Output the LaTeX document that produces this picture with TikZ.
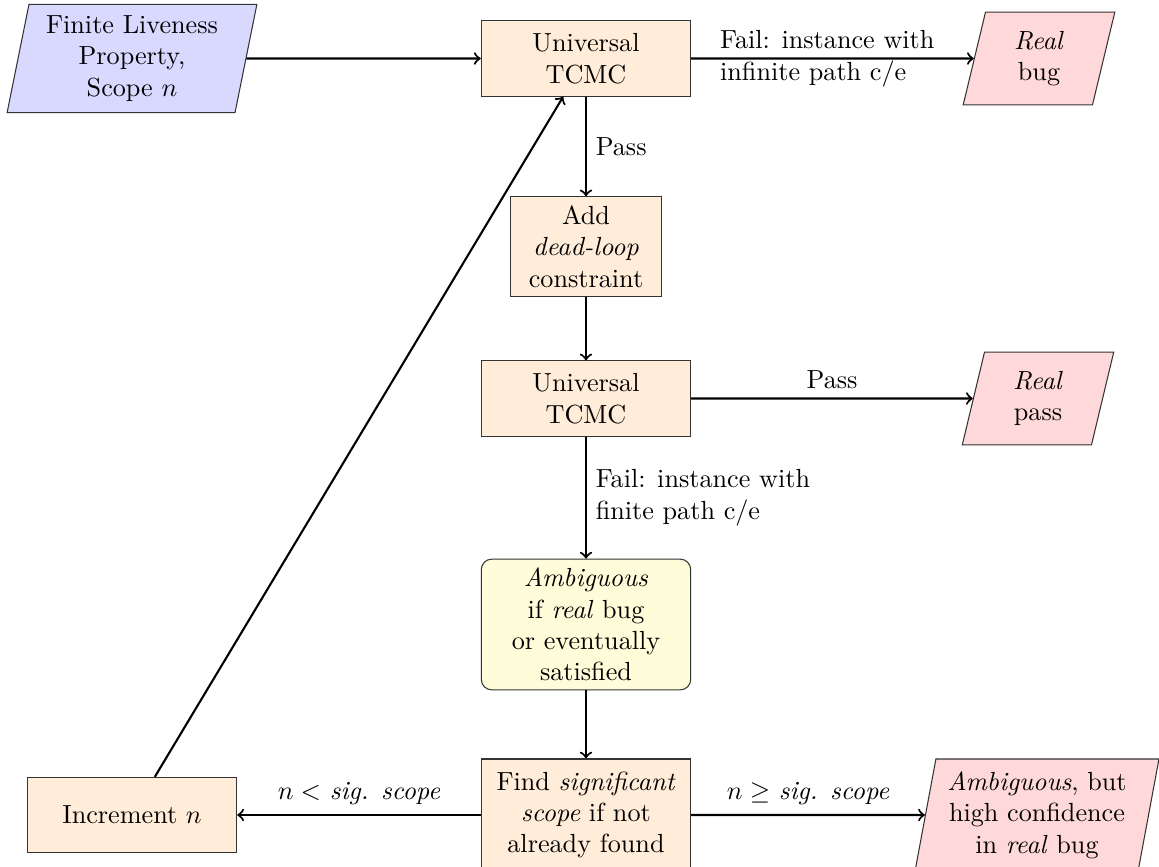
\documentclass[tikz,border=0pt]{standalone}
\usetikzlibrary{shapes.geometric}
\begin{document}
\begin{tikzpicture}[x=0.382pt,y=-0.382pt,
  base/.style={draw=black!80, align=center, inner sep=3.33pt},
  proc/.style={base, rectangle, fill=orange!15, minimum width=80pt, minimum height=28.7pt},
  io/.style={base, trapezium, trapezium left angle=79, trapezium right angle=101, trapezium stretches=true},
  inputio/.style={io, fill=blue!15},
  outio/.style={io, fill=red!15},
  decide/.style={base, rectangle, rounded corners, fill=yellow!15, minimum width=80pt},
  flow/.style={->, thick},
]
\useasboundingbox (0,0) rectangle (1159,867);

% top row
\node[inputio, minimum width=95.5pt, minimum height=41.3pt] (prop) at (132,58.5)
  {Finite Liveness\\Property,\\Scope $n$};
\node[proc] (tc1) at (586,58.5) {Universal\\TCMC};
\node[outio, minimum width=58pt, minimum height=35.5pt] (bug) at (1039,58.5)
  {\textit{Real}\\bug};

% middle column
\node[proc, minimum width=58pt] (dead) at (586,246.5)
  {Add\\\textit{dead-loop}\\constraint};
\node[proc] (tc2) at (586,398.5) {Universal\\TCMC};
\node[outio, minimum width=58pt, minimum height=35.5pt] (pass) at (1038,398.5)
  {\textit{Real}\\pass};
\node[decide] (amb) at (586,624.5)
  {\textit{Ambiguous}\\if \textit{real} bug\\or eventually\\satisfied};

% bottom row
\node[proc, minimum height=42.8pt] (find) at (586,815)
  {Find \textit{significant}\\\textit{scope} if not\\already found};
\node[proc] (inc) at (132,815) {Increment $n$};
\node[outio, minimum width=93.5pt, minimum height=42.8pt] (conf) at (1037,815)
  {\textit{Ambiguous}, but\\high confidence\\in \textit{real} bug};

% connectors
\draw[flow] (prop) -- (tc1);
\draw[flow] (tc1) -- node[align=left, xshift=-2pt] {Fail: instance with\\infinite path c/e} (bug);
\draw[flow] (tc1) -- node[right] {Pass} (dead);
\draw[flow] (dead) -- (tc2);
\draw[flow] (tc2) -- node[above] {Pass} (pass);
\draw[flow] (tc2) -- node[right, align=left] {Fail: instance with\\finite path c/e} (amb);
\draw[flow] (amb) -- (find);
\draw[flow] (find) -- node[above] {$n <$ \textit{sig. scope}} (inc);
\draw[flow] (find) -- node[above] {$n \geq$ \textit{sig. scope}} (conf);
\draw[flow] (inc) -- (tc1);
\end{tikzpicture}
\end{document}
